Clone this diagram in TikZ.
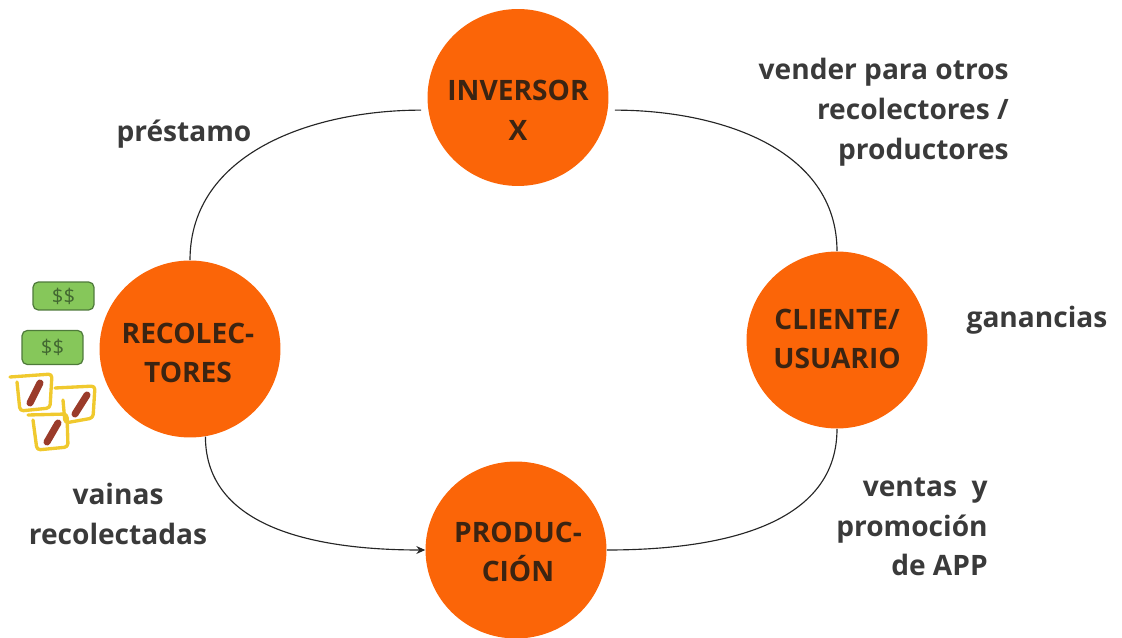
\documentclass[tikz,border=0pt]{standalone}
\usepackage{fontspec}
\setmainfont{Open Sans}
\usetikzlibrary{arrows.meta, shapes.geometric}
\definecolor{naranja}{HTML}{FB6508}
\definecolor{texto}{HTML}{3A3A3A}
\definecolor{textocirc}{HTML}{3B2412}
\definecolor{billete}{HTML}{86C75A}
\definecolor{bordeb}{HTML}{4E7A3A}
\definecolor{amarillo}{HTML}{F0C92E}
\definecolor{vaina}{HTML}{9A3B2A}
\tikzset{
	circulo/.style={ellipse, fill=naranja, minimum width=3.62cm, minimum height=3.54cm, inner sep=0pt},
	rotulo/.style={inner sep=0pt, align=center, text=textocirc, font=\fontsize{16}{22.6}\selectfont\bfseries},
	etiqueta/.style={text=texto, inner sep=0pt, font=\fontsize{16}{22.6}\selectfont\bfseries},
	billetes/.style={draw=bordeb, line width=.7pt, fill=billete, rounded corners=3pt, inner sep=0pt, text=bordeb!85!black, font=\fontsize{11.5}{12}\selectfont},
	marco/.style={draw=amarillo, line width=1.9pt, line join=round, line cap=round, rounded corners=2pt},
	grano/.style={draw=vaina, line width=4pt, line cap=round},
	flecha/.style={line width=.65pt, black!85}
}
\begin{document}
\begin{tikzpicture}[x=.02cm, y=-.02cm, line join=round, >=stealth]
	\useasboundingbox (0,0) rectangle (1122,638);
	\node[circulo] (inversor) at (518,97.5) {};
	\node[circulo] (reco) at (190,349) {};
	\node[circulo] (cliente) at (837,340) {};
	\node[circulo] (produ) at (516,550) {};
	\node[rotulo] (tinversor) at (518,110) {INVERSOR\\X};
	\node[rotulo] (treco) at (188,353) {RECOLEC-\\TORES};
	\node[rotulo] (tcliente) at (837,339) {CLIENTE/\\USUARIO};
	\node[rotulo] (tprodu) at (518,552) {PRODUC-\\CIÓN};
	% conectores
	\draw[flecha] (reco.north) to[out=90, in=180] ([xshift=-4pt]inversor.188);
	\draw[flecha] ([xshift=4pt]inversor.352) to[out=0, in=90] (cliente.north);
	\draw[flecha, -{Stealth[length=5pt, width=4.5pt]}] (reco.280) to[out=-90, in=180] (produ.west);
	\draw[flecha] (cliente.south) to[out=-90, in=0] (produ.east);
	% textos
	\node[etiqueta] (prestamo) at (184,134) {préstamo};
	\node[etiqueta, anchor=east, align=right] (vender) at (1009,112) {vender para otros\\recolectores /\\productores};
	\node[etiqueta] (ganancias) at (1037,320) {ganancias};
	\node[etiqueta, anchor=east, align=right] (ventas) at (988,527) {ventas\ \ y\\promoción\\de APP};
	\node[etiqueta, align=center] (vainas) at (118,514) {vainas\\recolectadas};
	% billetes
	\node[billetes, minimum width=1.22cm, minimum height=.56cm] (bill1) at (63.5,296) {\$\$};
	\node[billetes, minimum width=1.22cm, minimum height=.68cm] (bill2) at (52.5,347.5) {\$\$};
	% vainas dibujadas
	\draw[marco] (10,377) -- (52,374) -- (50,408) -- (20,411) -- (17,382);
	\draw[marco] (55,388) -- (95,386) -- (93,418) -- (65,423) -- (63,400);
	\draw[marco] (28,415) -- (67,414) -- (68,447) -- (37,450) -- (33,420);
	\draw[grano] (40,383) -- (30,403);
	\draw[grano] (87,395) -- (75,414);
	\draw[grano] (58,423) -- (47,442);
\end{tikzpicture}
\end{document}
